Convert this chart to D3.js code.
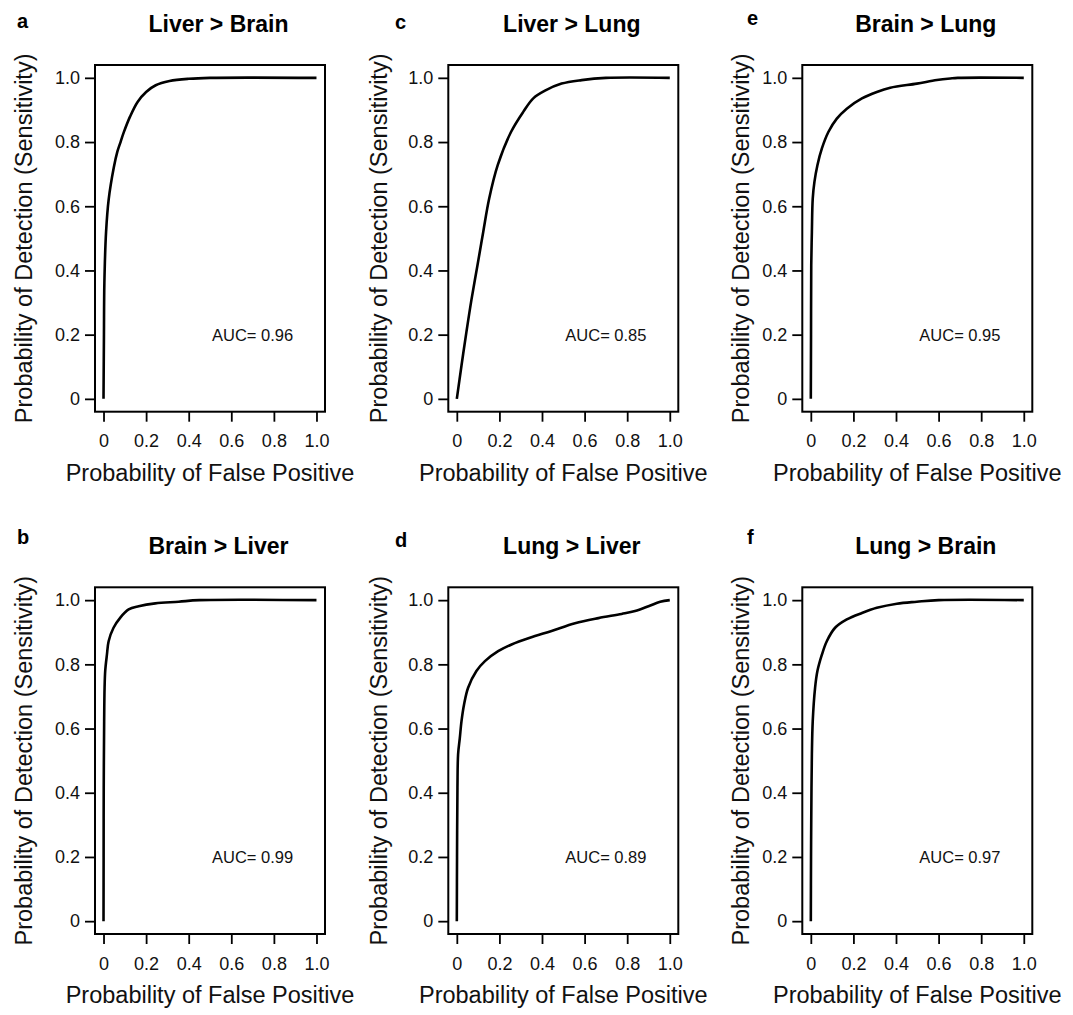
<!DOCTYPE html>
<html>
<head>
<meta charset="utf-8">
<script src="https://cdn.jsdelivr.net/npm/d3@7"></script>
<style>
  html, body { margin: 0; padding: 0; background: #fff; }
  svg { display: block; font-family: "Liberation Sans", Arial, sans-serif; }
</style>
</head>
<body>
<svg id="chart" width="1073" height="1015"></svg>
<script>
// ---- data ----
const panelLetters = ["a", "b", "c", "d", "e", "f"];
const panelTitles = ["Liver > Brain", "Brain > Liver", "Liver > Lung", "Lung > Liver", "Brain > Lung", "Lung > Brain"];
const aucValues = ["0.96", "0.99", "0.85", "0.89", "0.95", "0.97"];
const tickValues = [0, 0.2, 0.4, 0.6, 0.8, 1.0];
const tickLabels = ["0", "0.2", "0.4", "0.6", "0.8", "1.0"];
const xTitle = "Probability of False Positive";
const yTitle = "Probability of Detection (Sensitivity)";

// ROC curves: false positive rate / true positive rate
const fprA = [0, 0.002, 0.004, 0.012, 0.024, 0.048, 0.065, 0.08, 0.095, 0.125, 0.16, 0.2, 0.245, 0.31, 0.4, 0.5, 1.0];
const tprA = [0, 0.2, 0.36, 0.52, 0.62, 0.72, 0.77, 0.8, 0.83, 0.88, 0.925, 0.956, 0.977, 0.99, 0.997, 1.0, 1.0];

const fprB = [0, 0.0005, 0.001, 0.003, 0.005, 0.008, 0.016, 0.024, 0.047, 0.078, 0.118, 0.165, 0.243, 0.353, 0.45, 1.0];
const tprB = [0, 0.2, 0.415, 0.623, 0.727, 0.78, 0.83, 0.872, 0.914, 0.945, 0.971, 0.981, 0.99, 0.995, 1.0, 1.0];

const fprC = [0, 0.022, 0.045, 0.069, 0.097, 0.124, 0.152, 0.192, 0.255, 0.312, 0.359, 0.414, 0.492, 0.586, 0.70, 1.0];
const tprC = [0, 0.104, 0.208, 0.31, 0.416, 0.52, 0.624, 0.728, 0.832, 0.894, 0.936, 0.96, 0.982, 0.993, 1.0, 1.0];

const fprD = [0, 0.001, 0.003, 0.006, 0.014, 0.022, 0.034, 0.053, 0.092, 0.132, 0.194, 0.257, 0.343, 0.445, 0.555, 0.665, 0.774, 0.837, 0.90, 0.955, 1.0];
const tprD = [0, 0.2, 0.416, 0.52, 0.57, 0.623, 0.675, 0.727, 0.779, 0.81, 0.841, 0.862, 0.883, 0.904, 0.928, 0.944, 0.957, 0.966, 0.981, 0.995, 1.0];

const fprE = [0, 0.001, 0.002, 0.005, 0.009, 0.017, 0.031, 0.052, 0.083, 0.122, 0.169, 0.24, 0.31, 0.373, 0.498, 0.592, 0.655, 0.69, 1.0];
const tprE = [0, 0.2, 0.416, 0.52, 0.624, 0.676, 0.728, 0.78, 0.832, 0.873, 0.904, 0.936, 0.956, 0.969, 0.982, 0.993, 0.998, 1.0, 1.0];

const fprF = [0, 0.001, 0.002, 0.005, 0.009, 0.02, 0.031, 0.052, 0.075, 0.114, 0.169, 0.24, 0.31, 0.404, 0.498, 0.6, 1.0];
const tprF = [0, 0.2, 0.312, 0.52, 0.623, 0.727, 0.779, 0.83, 0.872, 0.914, 0.94, 0.96, 0.976, 0.989, 0.995, 1.0, 1.0];

const fprSeries = [fprA, fprB, fprC, fprD, fprE, fprF];
const tprSeries = [tprA, tprB, tprC, tprD, tprE, tprF];

// ---- layout ----
const colLeft = [95, 448.3, 802.3];
const rowTop = [65, 587.3];
const yTitleX = [31.7, 386.7, 748.5];
const letterPos = [[17, 28], [17, 543.5], [395, 29], [395, 547], [747, 25], [747, 543.5]];
const boxW = 230, boxH = 346.7;

const svg = d3.select("#chart");

panelLetters.forEach((letter, i) => {
  const col = Math.floor(i / 2), row = i % 2;
  const L = colLeft[col], T = rowTop[row];
  const x = d3.scaleLinear().domain([-0.04, 1.04]).range([L, L + boxW]);
  const y = d3.scaleLinear().domain([-0.04, 1.04]).range([T + boxH, T]);
  const g = svg.append("g");

  // curve
  const pts = fprSeries[i].map((f, k) => [f, tprSeries[i][k]]);
  g.append("path")
    .datum(pts)
    .attr("fill", "none")
    .attr("stroke", "#000")
    .attr("stroke-width", 2.6)
    .attr("stroke-linejoin", "round")
    .attr("d", d3.line().x(d => x(d[0])).y(d => y(d[1])).curve(d3.curveCatmullRom.alpha(0.5)));

  // box
  g.append("rect")
    .attr("x", L).attr("y", T).attr("width", boxW).attr("height", boxH)
    .attr("fill", "none").attr("stroke", "#000").attr("stroke-width", 2);

  // axes
  const xAxis = d3.axisBottom(x).tickValues(tickValues)
    .tickFormat((d, k) => tickLabels[k]).tickSize(10).tickPadding(13);
  const gx = g.append("g").attr("transform", `translate(0,${T + boxH})`).call(xAxis);
  const yAxis = d3.axisLeft(y).tickValues(tickValues)
    .tickFormat((d, k) => tickLabels[k]).tickSize(10).tickPadding(5);
  const gy = g.append("g").attr("transform", `translate(${L},0)`).call(yAxis);
  [gx, gy].forEach(a => {
    a.select(".domain").remove();
    a.selectAll(".tick line").attr("stroke", "#000").attr("stroke-width", 1.8);
    a.selectAll(".tick text").attr("fill", "#111").style("font-size", "18px")
      .style("font-family", "'Liberation Sans', Arial, sans-serif");
  });

  // AUC annotation
  g.append("text")
    .attr("x", x(0.7)).attr("y", y(0.2))
    .attr("text-anchor", "middle").attr("dominant-baseline", "central")
    .style("font-size", "16.5px").attr("fill", "#111")
    .text("AUC= " + aucValues[i]);

  // title
  g.append("text")
    .attr("x", L + boxW / 2 + 8.5).attr("y", T - 33.3)
    .attr("text-anchor", "middle")
    .style("font-size", "23px").style("font-weight", "bold")
    .text(panelTitles[i]);

  // letter
  g.append("text")
    .attr("x", letterPos[i][0]).attr("y", letterPos[i][1])
    .style("font-size", "20px").style("font-weight", "bold")
    .text(letter);

  // axis titles
  g.append("text")
    .attr("x", L + boxW / 2).attr("y", T + 416)
    .attr("text-anchor", "middle")
    .style("font-size", "23.5px").attr("fill", "#111")
    .text(xTitle);
  g.append("text")
    .attr("transform", `translate(${yTitleX[col]},${T + boxH / 2}) rotate(-90)`)
    .attr("text-anchor", "middle")
    .style("font-size", "23.5px").attr("fill", "#111")
    .text(yTitle);
});
</script>
</body>
</html>
